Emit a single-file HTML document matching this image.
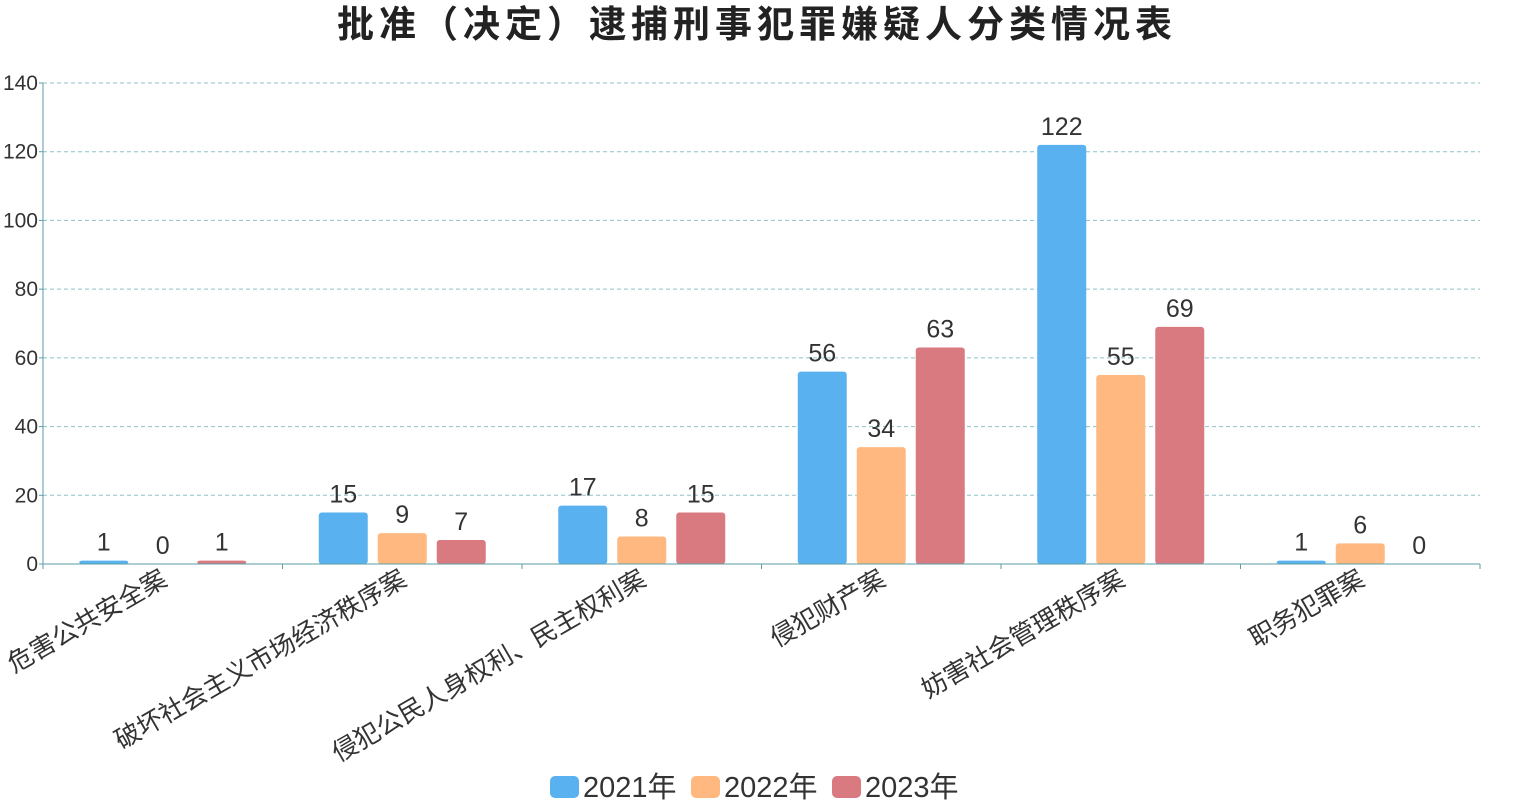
<!DOCTYPE html>
<html><head><meta charset="utf-8"><style>
body{margin:0;background:#fff;font-family:"Liberation Sans","Noto Sans CJK SC",sans-serif;}
svg text{font-family:"Liberation Sans","Noto Sans CJK SC",sans-serif;}
</style></head><body>
<svg id="c" width="1514" height="807">
<text x="757" y="37" text-anchor="middle" font-size="37" font-weight="bold" letter-spacing="5" fill="#222">批准（决定）逮捕刑事犯罪嫌疑人分类情况表</text>
<g id="grid"></g><g id="bars"></g><g id="axes"></g>
<g font-size="29" fill="#333">
<g><rect x="550" y="776" width="29" height="22" rx="5" fill="#5ab1ef"/><text x="583" y="797">2021年</text></g>
<g><rect x="691" y="776" width="29" height="22" rx="5" fill="#ffb980"/><text x="724" y="797">2022年</text></g>
<g><rect x="832" y="776" width="29" height="22" rx="5" fill="#d87a80"/><text x="865" y="797">2023年</text></g>
</g>
</svg>
<script>
const categories=["危害公共安全案","破坏社会主义市场经济秩序案","侵犯公民人身权利、民主权利案","侵犯财产案","妨害社会管理秩序案","职务犯罪案"];
const s2021=[1,15,17,56,122,1];
const s2022=[0,9,8,34,55,6];
const s2023=[1,7,15,63,69,0];
const yTicks=[0,20,40,60,80,100,120,140];
const NS="http://www.w3.org/2000/svg";
const L=43,R=1480,T=83,B=564,yMax=140;
const y=v=>B-(B-T)*v/yMax;
const bw=(R-L)/categories.length;
const xc=i=>L+bw*(i+0.5);
function mk(tag,attrs,parent,txt){const e=document.createElementNS(NS,tag);for(const k in attrs)e.setAttribute(k,attrs[k]);if(txt!==undefined)e.textContent=txt;parent.appendChild(e);return e;}
const grid=document.getElementById('grid'),bars=document.getElementById('bars'),axes=document.getElementById('axes');
yTicks.forEach(t=>{
 if(t>0){const g=mk('line',{x1:L,x2:R,y1:y(t),y2:y(t),stroke:'#8fc1c7','stroke-dasharray':'4,3'},grid);
 
 }
 const tl=mk('text',{x:L-5,y:y(t)+7,'text-anchor':'end','font-size':21,fill:'#333'},axes,t);
 
 
 mk('line',{x1:L-4,x2:L,y1:y(t),y2:y(t),stroke:'#5a9ea6'},axes);
});
const ya=mk('line',{x1:L,x2:L,y1:T,y2:B,stroke:'#5a9ea6'},axes);


const xa=mk('line',{x1:L,x2:R,y1:B,y2:B,stroke:'#5a9ea6'},axes);


for(let i=0;i<=categories.length;i++)mk('line',{x1:L+bw*i,x2:L+bw*i,y1:B,y2:B+5,stroke:'#5a9ea6'},axes);
const series=[s2021,s2022,s2023],colors=['#5ab1ef','#ffb980','#d87a80'],off=[-59,0,59];
categories.forEach((c,i)=>{
 series.forEach((s,k)=>{
  const v=s[i],cx=xc(i)+off[k],top=y(v);
  if(v>0){const r=mk('rect',{x:cx-24.5,y:top,width:49,height:B-top,rx:3,fill:colors[k]},bars);
  
  }
  const t=mk('text',{x:cx,y:top-10,'text-anchor':'middle','font-size':25,fill:'#333'},bars,v);
  
  
 });
 const lb=mk('text',{x:0,y:0,'text-anchor':'end','font-size':25.5,fill:'#333',transform:`translate(${xc(i)+6},${B+20}) rotate(-30)`},axes,c);
 
 
});
</script>
</body></html>
